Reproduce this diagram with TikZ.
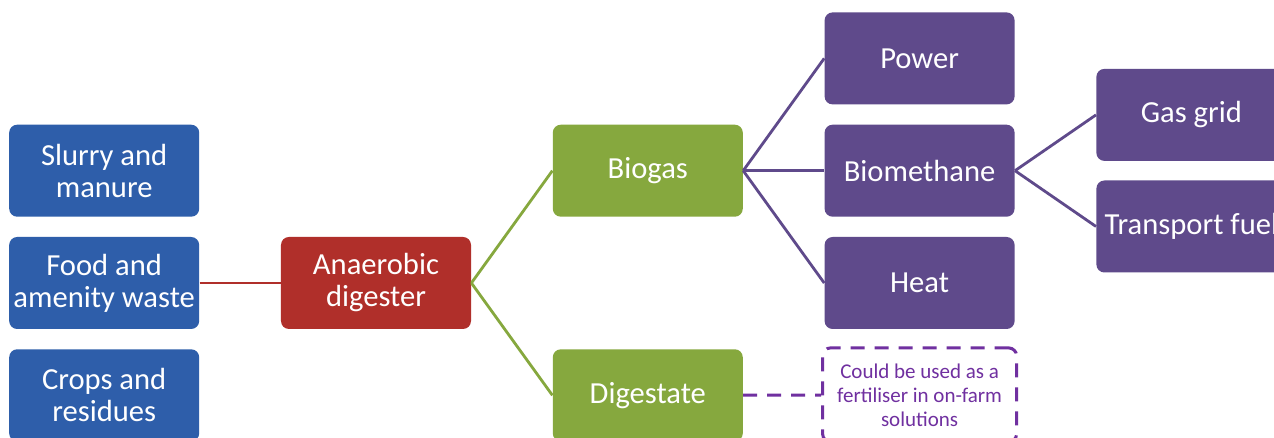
\documentclass[tikz,border=0pt]{standalone}
\usepackage{fontspec}
\setmainfont{Carlito}
\usetikzlibrary{positioning}
\definecolor{FeedBlue}{HTML}{2E5EAA}
\definecolor{DigesterRed}{HTML}{B02F2A}
\definecolor{OutputGreen}{HTML}{86A83E}
\definecolor{UsePurple}{HTML}{5F4A8B}
\definecolor{NotePurple}{HTML}{7030A0}

\begin{document}
\begin{tikzpicture}[
  node distance=9.75pt and 40.5pt,
  box/.style={rounded corners=4pt,text width=95pt,minimum height=46pt,inner sep=0pt,align=flush center,text=white,font=\fontsize{15.3}{16}\selectfont},
  feed/.style={box,fill=FeedBlue},
  digester/.style={box,fill=DigesterRed},
  product/.style={box,fill=OutputGreen},
  enduse/.style={box,fill=UsePurple},
  note/.style={box,text width=97pt,minimum height=47pt,fill=white,draw=NotePurple,line width=1.5pt,dash pattern=on 7pt off 5pt,text=NotePurple,font=\fontsize{10.5}{12}\selectfont},
  link/.style={line width=1.4pt}
]
  \useasboundingbox (-188pt,-77.5pt) rectangle (449pt,141.5pt);
  \clip (-188pt,-77.5pt) rectangle (449pt,141.5pt);
  \fill[white] (-188pt,-77.5pt) rectangle (449pt,141.5pt);
  \node[digester] (ad) {Anaerobic\\digester};
  \node[feed,left=of ad] (food) {Food and\\amenity waste};
  \node[feed,above=of food] (slurry) {Slurry and\\manure};
  \node[feed,below=of food] (crops) {Crops and\\residues};
  \node[product,above right=of ad] (biogas) {Biogas};
  \node[product,below right=of ad] (digestate) {Digestate};
  \node[enduse,right=of biogas] (biomethane) {Biomethane};
  \node[enduse,above=of biomethane] (power) {Power};
  \node[enduse,below=of biomethane] (heat) {Heat};
  \node[note,below=8.5pt of heat] (fert) {Could be used as a\\fertiliser in on-farm\\solutions};
  \node[enduse,right=of biomethane,yshift=27.9pt] (grid) {Gas grid};
  \node[enduse,right=of biomethane,yshift=-27.9pt] (fuel) {Transport fuel};
  \draw[link,draw=DigesterRed] (food) -- (ad);
  \draw[link,draw=OutputGreen] (ad.east) -- (biogas.west);
  \draw[link,draw=OutputGreen] (ad.east) -- (digestate.west);
  \draw[link,draw=UsePurple] (biogas.east) -- (power.west);
  \draw[link,draw=UsePurple] (biogas.east) -- (biomethane.west);
  \draw[link,draw=UsePurple] (biogas.east) -- (heat.west);
  \draw[link,draw=UsePurple] (biomethane.east) -- (grid.west);
  \draw[link,draw=UsePurple] (biomethane.east) -- (fuel.west);
  \draw[link,draw=NotePurple,line width=1.5pt,dash pattern=on 7pt off 5pt] (digestate) -- (fert);
\end{tikzpicture}
\end{document}
